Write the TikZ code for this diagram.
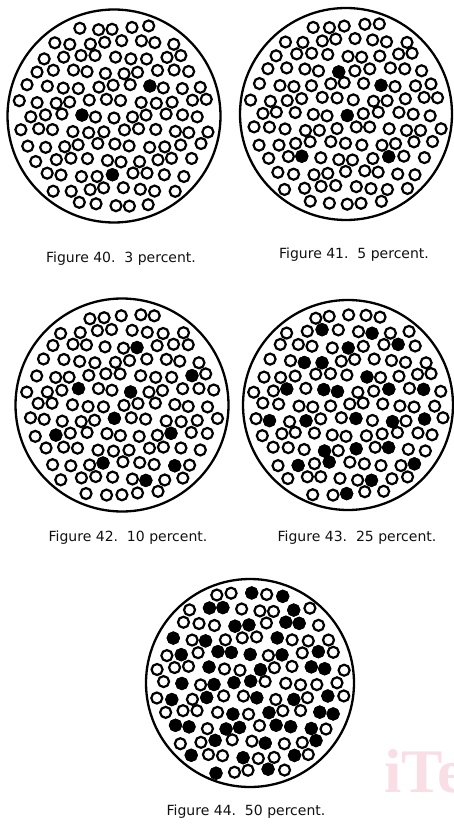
\documentclass[tikz,border=0pt]{standalone}
\usepackage{fontspec}
\setmainfont{DejaVu Sans}
\newfontfamily\markfont{Liberation Serif}
\usepackage{tikz}
\usetikzlibrary{positioning}

\definecolor{capgray}{HTML}{111111}
\definecolor{markpink}{RGB}{250,222,230}

% rings on a jittered hex grid inside one disc; #4 = grid cells that are filled
\newcommand\poreset[4]{%
  \foreach \j in {-6,...,6}{%
    \foreach \i in {-6,...,6}{%
      \pgfmathsetmacro\gx{17*\i+8.5*mod(abs(\j),2)}%
      \pgfmathsetmacro\gy{14.7*\j}%
      \pgfmathsetmacro\gd{veclen(\gx,\gy)}%
      \ifdim\gd pt<95pt
        \draw[pore] ({#1+\gx+2.0*sin(131*\i+77*\j+#3)},{#2+\gy+2.0*cos(59*\i+113*\j+#3)}) circle[radius=5.5pt];
      \fi
    }%
  }%
  \foreach \i/\j in {#4}{%
    \pgfmathsetmacro\gx{17*\i+8.5*mod(abs(\j),2)}%
    \pgfmathsetmacro\gy{14.7*\j}%
    \draw[bead] ({#1+\gx+2.0*sin(131*\i+77*\j+#3)},{#2+\gy+2.0*cos(59*\i+113*\j+#3)}) circle[radius=5.5pt];
  }%
}

\begin{document}
\begin{tikzpicture}[
    x=1pt, y=-1pt,
    disc/.style={circle, draw, line width=2.3pt, inner sep=0pt},
    pore/.style={draw=black, line width=2.2pt},
    bead/.style={pore, fill=black},
    figcap/.style={font=\fontsize{14}{16}\selectfont, text=capgray, inner sep=0pt}
]
    \useasboundingbox (0,0) rectangle (453,824);

    % Figure 40
    \node [disc, minimum size=213pt] (d40) at (114,116) {};
    \poreset{114}{116}{0}{2/-2, -2/0, 0/4}
    \node [figcap] (c40) at (121,259) {Figure 40.\ \ 3 percent.};

    % Figure 41
    \node [disc, minimum size=212pt] (d41) at (346,114) {};
    \poreset{346}{114}{40}{-1/-3, 2/-2, 0/0, -3/3, 2/3}
    \node [figcap] (c41) at (354,255) {Figure 41.\ \ 5 percent.};

    % Figure 42
    \node [disc, minimum size=213pt] (d42) at (122,405) {};
    \poreset{122}{405}{80}{1/-4, 4/-2, -3/-1, 0/-1, -4/2, -1/1, 3/2, -1/4, 1/5, 3/4}
    \node [figcap] (c42) at (128,538) {Figure 42.\ \ 10 percent.};

    % Figure 43
    \node [disc, minimum size=210pt] (d43) at (348,405) {};
    \poreset{348}{405}{120}{-2/-5, 0/-4, 1/-5, -3/-3, -2/-3, 3/-4, 1/-2, -4/-1, -2/-1, -1/-1, 2/-1, 4/-1, -5/1, -3/1, 0/1, 2/1, 4/1, -2/3, 0/3, 2/3, -3/4, -1/4, 1/5, 4/4, 0/6}
    \node [figcap] (c43) at (357,538) {Figure 43.\ \ 25 percent.};

    % Figure 44
    \node [disc, minimum size=208pt] (d44) at (250,683) {};
    \poreset{250}{683}{160}{0/-6, 2/-6, -3/-5, 2/-5, -2/-5, 0/-4, 2/-4, 3/-4, -1/-4, -5/-3, -3/-3, 1/-3, -1/-2, 4/-2, -4/-2, -2/-2, 0/-2, 2/-2, 4/-1, -4/0, -3/-1, 0/-1, 3/-1, -2/0, -1/0, 0/0, -5/1, 2/1, 4/1, -3/1, 0/1, 1/2, 4/2, -1/2, -5/3, -4/3, -1/3, 2/3, 3/3, 5/2, -2/4, -2/3, 1/3, 1/4, 4/4, 2/5, -4/5, -1/5, -2/6, 1/6}
    \node [figcap] (c44) at (246,812) {Figure 44.\ \ 50 percent.};

    % watermark
    \node [font=\markfont\bfseries\fontsize{62}{62}\selectfont, text=markpink, anchor=base west, inner sep=0pt] (mark) at (384,792) {iTe};
\end{tikzpicture}
\end{document}
